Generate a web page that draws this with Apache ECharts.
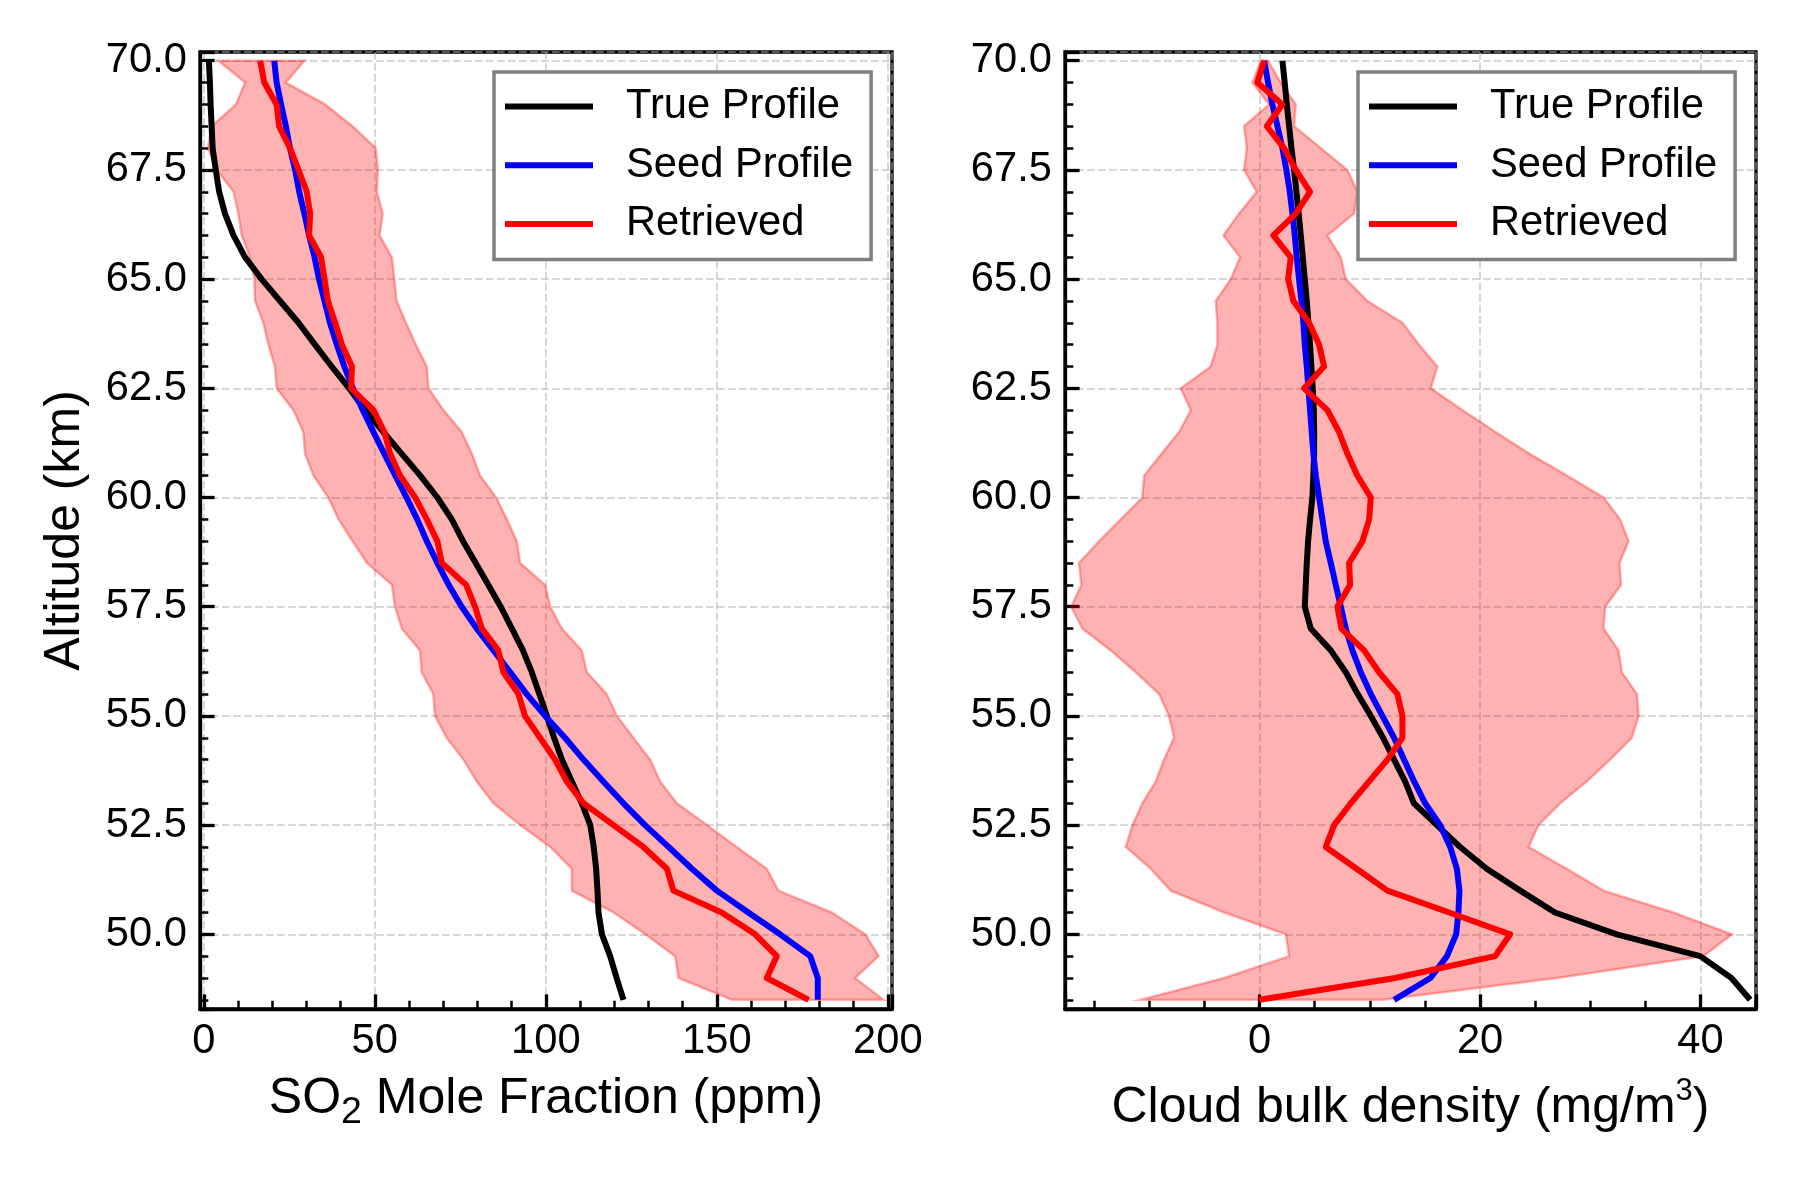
<!DOCTYPE html>
<html><head><meta charset="utf-8">
<script src="https://cdn.jsdelivr.net/npm/echarts@6/dist/echarts.min.js"></script>
<style>html,body{margin:0;padding:0;background:#fff}#c{width:1800px;height:1200px}</style>
</head><body><div id="c"></div>
<script>
// Altitude levels (km)
const altitude = [70, 69.5, 69, 68.5, 68, 67.5, 67, 66.5, 66, 65.5, 65, 64.5, 64, 63.5, 63, 62.5, 62, 61.5, 61, 60.5, 60, 59.5, 59, 58.5, 58, 57.5, 57, 56.5, 56, 55.5, 55, 54.5, 54, 53.5, 53, 52.5, 52, 51.5, 51, 50.5, 50, 49.5, 49, 48.5];

// SO2 mole fraction (ppm)
const so2True = [1.5, 1.8, 2.0, 2.3, 2.6, 3.5, 4.5, 6.2, 8.7, 12.1, 16.9, 22.3, 27.7, 32.5, 37.4, 42.5, 47.2, 52.5, 57.9, 63.3, 68.3, 72.5, 75.8, 79.5, 83.2, 86.8, 90.1, 93.3, 95.9, 98.1, 100.3, 102.4, 104.7, 107.6, 110.5, 113, 114, 114.7, 115.1, 115.4, 116.4, 118.8, 120.7, 122.7];
const so2Seed = [20.6, 21.3, 22.6, 24.0, 25.2, 26.7, 27.9, 29.4, 30.8, 32.4, 33.7, 35.3, 36.9, 38.9, 41.1, 43.6, 46.5, 49.6, 52.8, 56.0, 59.3, 62.4, 65.2, 68.3, 71.6, 75.4, 79.8, 84.7, 89.6, 94.4, 99.8, 105.6, 111, 116.8, 122.7, 129, 135.9, 142.7, 150, 159.2, 168.5, 177.3, 179.5, 179.5];
const so2Ret = [16.5, 17.7, 21.3, 22, 25.2, 27.7, 30.1, 31.1, 30.8, 34.3, 35.3, 36.3, 38.4, 40.4, 43.3, 43.1, 49.6, 52.8, 54.5, 57.4, 61.8, 65.2, 68.3, 69.6, 76.7, 79.3, 81.3, 86.1, 87.6, 92, 93.9, 98.3, 102.7, 106.1, 111, 119.8, 128.5, 135.4, 137.3, 151.4, 161.2, 167.5, 164.6, 176.8];
const so2Lo = [4.3, 12.1, 9.4, 2.3, 1.2, 3.8, 8.7, 10.1, 11.1, 13.5, 14.8, 15, 17.4, 18.9, 20.8, 21.3, 26.2, 29.1, 29.6, 32.1, 36.4, 39.4, 43.5, 47.7, 55.0, 55.9, 57.9, 63.2, 63.7, 67.1, 67.6, 71, 75.9, 79.8, 84.7, 92.5, 101.3, 107.6, 107.6, 119.8, 129.1, 137.8, 138.8, 154.4];
const so2Hi = [29.4, 24.0, 35.5, 43.5, 50.3, 50.9, 50.6, 52.3, 51.4, 55, 55.7, 56.4, 59.1, 62, 65.2, 65.7, 70.1, 75.4, 78.4, 80.8, 85.5, 88.6, 91.5, 92.5, 99.8, 101.3, 104.7, 110.5, 112, 117.8, 120.8, 125.6, 130.5, 133.4, 138.3, 147.1, 155.8, 164.6, 168, 183.6, 193.4, 197.3, 190.4, 198.7];

// Cloud bulk density (mg/m3)
const cloudTrue = [2.07, 2.28, 2.47, 2.68, 2.89, 3.13, 3.34, 3.55, 3.74, 3.92, 4.1, 4.28, 4.43, 4.58, 4.7, 4.82, 4.92, 4.95, 4.95, 4.88, 4.79, 4.58, 4.4, 4.28, 4.19, 4.1, 4.64, 6.46, 7.82, 8.9, 10.09, 11.2, 12.2, 13.2, 14.0, 16.08, 18.19, 20.6, 23.64, 26.8, 32.4, 39.97, 42.8, 44.5];
const cloudSeed = [0.41, 0.77, 1.16, 1.62, 2.07, 2.43, 2.74, 2.98, 3.19, 3.37, 3.58, 3.79, 3.97, 4.1, 4.28, 4.43, 4.58, 4.73, 4.88, 5.1, 5.4, 5.7, 6.0, 6.46, 6.91, 7.37, 7.82, 8.42, 9.18, 10.09, 11.14, 12.2, 13.1, 14.02, 15.02, 16.38, 17.29, 17.9, 18.13, 18.04, 17.83, 17.0, 15.5, 12.2];
const cloudRet = [0.41, -0.2, 2.07, 0.65, 2.22, 3.28, 4.58, 3.28, 1.25, 2.83, 2.59, 3.07, 4.49, 5.4, 5.85, 4.04, 6.15, 7.21, 7.97, 8.87, 10.09, 9.94, 9.33, 8.12, 8.21, 7.06, 7.42, 9.48, 10.84, 12.5, 12.96, 12.96, 11.6, 9.94, 8.27, 6.76, 6.0, 8.8, 11.6, 17.2, 22.73, 21.37, 12.3, 0];
const cloudLo = [0.1, -0.65, 0.86, -1.41, -1.16, -1.41, -0.26, -1.86, -3.28, -1.77, -2.62, -3.98, -3.83, -3.83, -4.43, -7.15, -6.24, -7.3, -8.9, -10.48, -10.63, -12.6, -14.56, -16.38, -16.17, -17.08, -16.08, -13.5, -11.23, -9.12, -8.21, -7.76, -8.67, -9.42, -10.63, -11.53, -12.14, -9.87, -8.06, -3.22, 2.38, 2.68, -3.22, -10.78];
const cloudHi = [0.77, 1.92, 3.28, 3.13, 5.55, 7.97, 8.87, 8.57, 6.15, 7.37, 7.82, 9.78, 12.96, 14.47, 16.13, 15.53, 18.4, 21.4, 24.5, 27.9, 31.2, 32.7, 33.47, 32.65, 32.78, 31.35, 31.2, 32.56, 32.86, 34.23, 34.38, 33.77, 31.8, 29.69, 27.27, 25.3, 24.4, 27.87, 31.2, 37.55, 42.85, 40.27, 27.0, 11.2];

const legendNames = ['True Profile', 'Seed Profile', 'Retrieved'];
const lineColors = ['#000000', '#0000ff', '#ff0000'];

const FONT = '"Liberation Sans", Arial, Helvetica, sans-serif';

const pair = xs => xs.map((v, i) => [v, altitude[i]]);

function bandSeries(lo, hi, idx) {
  return {
    type: 'custom', xAxisIndex: idx, yAxisIndex: idx, silent: true, z: 1,
    data: altitude.map((a, i) => [lo[i], hi[i], a]),
    encode: { x: [0, 1], y: 2 },
    renderItem(params, api) {
      if (params.dataIndex !== 0) return null;
      const pts = [];
      for (let i = 0; i < altitude.length; i++) pts.push(api.coord([lo[i], altitude[i]]));
      for (let i = altitude.length - 1; i >= 0; i--) pts.push(api.coord([hi[i], altitude[i]]));
      return { type: 'polygon', shape: { points: pts },
        style: { fill: 'rgba(255,0,0,0.3)', stroke: 'rgba(255,0,0,0.3)', lineWidth: 2.5 } };
    }
  };
}
function lineSeries(k, xs, idx) {
  return { name: legendNames[k], type: 'line', xAxisIndex: idx, yAxisIndex: idx,
    data: pair(xs), showSymbol: false, symbol: 'none', z: 3 + k,
    lineStyle: { color: lineColors[k], width: 6, join: 'round' },
    itemStyle: { color: lineColors[k] } };
}

function onMultiple(v, step) { return Math.abs(v / step - Math.round(v / step)) < 1e-6; }

function axisBase(step, minorSplit, fmt) {
  return {
    type: 'value',
    minInterval: step, maxInterval: step,
    axisLine: { show: true, onZero: false, lineStyle: { color: '#000', width: 3.3 } },
    axisTick: { show: true, inside: true, length: 14.6, lineStyle: { color: '#000', width: 3.3 } },
    minorTick: { show: true, splitNumber: minorSplit, length: 8.3, lineStyle: { color: '#000', width: 2.5 } },
    splitLine: { show: true, lineStyle: { color: 'rgba(176,176,176,0.5)', width: 2, type: [7.7, 3.3] } },
    minorSplitLine: { show: false },
    axisLabel: { color: '#000', fontSize: 41.7, fontFamily: FONT, showMinLabel: true, showMaxLabel: true,
      formatter: v => onMultiple(v, step) ? fmt(v) : '' }
  };
}

const xLeft = Object.assign(axisBase(50, 5, v => String(Math.round(v))), {
  gridIndex: 0, min: -1.1, max: 201.2,
  name: 'SO{sub|2} Mole Fraction (ppm)', nameLocation: 'middle', nameGap: 59,
  nameTextStyle: { fontSize: 50, color: '#000', fontFamily: FONT, lineHeight: 50,
    rich: { sub: { fontSize: 37.5, lineHeight: 37.5, padding: [25.4, 0, 0, 0], fontFamily: FONT, color: '#000' } } }
});
xLeft.axisLabel.margin = 12;
const xRight = Object.assign(axisBase(20, 4, v => String(Math.round(v))), {
  gridIndex: 1, min: -17.65, max: 45.03,
  name: 'Cloud bulk density (mg/m{sup|3})', nameLocation: 'middle', nameGap: 74.5,
  nameTextStyle: { fontSize: 50, color: '#000', fontFamily: FONT, lineHeight: 50,
    rich: { sup: { fontSize: 31, lineHeight: 31, padding: [0, 0, 34, 0], fontFamily: FONT, color: '#000' } } }
});
xRight.axisLabel.margin = 12;
const yLeft = Object.assign(axisBase(2.5, 5, v => v.toFixed(1)), {
  gridIndex: 0, min: 48.29, max: 70.2,
  name: 'Altitude (km)', nameLocation: 'middle', nameGap: 110, nameRotate: 90,
  nameTextStyle: { fontSize: 50, color: '#000', fontFamily: FONT, lineHeight: 50 }
});
yLeft.axisLabel.margin = 13;
const yRight = Object.assign(axisBase(2.5, 5, v => v.toFixed(1)), {
  gridIndex: 1, min: 48.29, max: 70.2
});
yRight.axisLabel.margin = 13;

function legendCfg(left) {
  return {
    left: left, top: 72, orient: 'vertical', data: legendNames, selectedMode: false,
    icon: 'rect', itemWidth: 88, itemHeight: 6, itemGap: 16.7,
    padding: [13.5, 18, 14.5, 11], borderColor: '#808080', borderWidth: 3.5, borderRadius: 0,
    backgroundColor: '#ffffff',
    textStyle: { fontSize: 41.7, lineHeight: 42, color: '#000', fontFamily: FONT, padding: [0, 0, 0, 28] }
  };
}

const chart = echarts.init(document.getElementById('c'), null, { renderer: 'canvas' });
chart.setOption({
  animation: false,
  backgroundColor: '#ffffff',
  textStyle: { fontFamily: FONT },
  grid: [
    { left: 200, top: 52, width: 692, height: 957, show: true, borderColor: '#000', borderWidth: 3.3, backgroundColor: 'transparent', containLabel: false },
    { left: 1065, top: 52, width: 691, height: 957, show: true, borderColor: '#000', borderWidth: 3.3, backgroundColor: 'transparent', containLabel: false }
  ],
  xAxis: [xLeft, xRight],
  yAxis: [yLeft, yRight],
  legend: [legendCfg(494), legendCfg(1358)],
  series: [
    bandSeries(so2Lo, so2Hi, 0),
    lineSeries(0, so2True, 0),
    lineSeries(1, so2Seed, 0),
    lineSeries(2, so2Ret, 0),
    bandSeries(cloudLo, cloudHi, 1),
    lineSeries(0, cloudTrue, 1),
    lineSeries(1, cloudSeed, 1),
    lineSeries(2, cloudRet, 1)
  ]
});
</script></body></html>
